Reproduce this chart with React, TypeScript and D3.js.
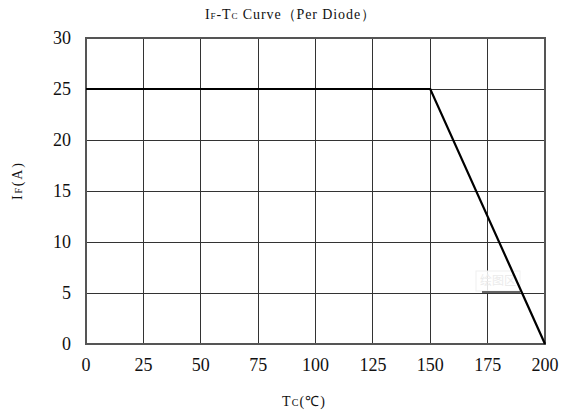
import React from "react";
import * as d3 from "d3";

const xTicks = [0, 25, 50, 75, 100, 125, 150, 175, 200];
const yTicks = [0, 5, 10, 15, 20, 25, 30];
const curveTc = [0, 150, 200];
const curveIf = [25, 25, 0];

const W = 561;
const H = 414;
const M = { left: 86, right: 545, top: 38, bottom: 344 };

export default function App() {
  const x = d3.scaleLinear().domain([0, 200]).range([M.left, M.right]);
  const y = d3.scaleLinear().domain([0, 30]).range([M.bottom, M.top]);
  const pts: [number, number][] = curveTc.map((t, i) => [t, curveIf[i]]);
  const line = d3
    .line<[number, number]>()
    .x((d) => x(d[0]))
    .y((d) => y(d[1]));
  const serif = "'Liberation Serif', 'Times New Roman', serif";
  return (
    <svg
      width={W}
      height={H}
      style={{ position: "absolute", left: 0, top: 0, background: "#fff" }}
    >
      <rect x={0} y={0} width={W} height={H} fill="#fff" />
      {/* grid */}
      {xTicks.map((t) => (
        <line
          key={"gx" + t}
          x1={x(t)}
          x2={x(t)}
          y1={M.top}
          y2={M.bottom}
          stroke="#333"
          strokeWidth={1}
          shapeRendering="crispEdges"
        />
      ))}
      {yTicks.map((t) => (
        <line
          key={"gy" + t}
          x1={M.left}
          x2={M.right}
          y1={y(t)}
          y2={y(t)}
          stroke="#333"
          strokeWidth={1}
          shapeRendering="crispEdges"
        />
      ))}
      <rect
        x={M.left}
        y={M.top}
        width={M.right - M.left}
        height={M.bottom - M.top}
        fill="none"
        stroke="#555"
        strokeWidth={1.5}
        shapeRendering="crispEdges"
      />
      {/* faint tooltip artifact */}
      <rect x={476} y={271} width={44} height={20} fill="#fff" fillOpacity={0.85} stroke="#f0f0f0" />
      <line x1={482} x2={520} y1={292} y2={292} stroke="#666" strokeWidth={2} />
      <text x={498} y={285} fontSize={12} fill="#ebebeb" textAnchor="middle" fontFamily="'Noto Sans CJK SC'">
        绘图区
      </text>
      {/* curve */}
      <path d={line(pts) || ""} fill="none" stroke="#000" strokeWidth={2.2} />
      {/* y ticks */}
      {yTicks.map((t) => (
        <text
          key={"ty" + t}
          x={71}
          y={y(t)}
          dy="0.35em"
          textAnchor="end"
          fontSize={18}
          fontFamily={serif}
          fill="#111"
        >
          {t}
        </text>
      ))}
      {/* x ticks */}
      {xTicks.map((t) => (
        <text
          key={"tx" + t}
          x={x(t)}
          y={371}
          textAnchor="middle"
          fontSize={18}
          fontFamily={serif}
          fill="#111"
        >
          {t}
        </text>
      ))}
      {/* title */}
      <text
        x={205}
        y={19}
        fontSize={14}
        fontFamily={serif}
        fill="#111"
        textLength={170}
        lengthAdjust="spacing"
      >
        I<tspan fontSize={9}>F</tspan>-T<tspan fontSize={9}>C</tspan> Curve（Per Diode）
      </text>
      {/* x label */}
      <text
        x={282}
        y={406}
        fontSize={14}
        fontFamily={serif}
        fill="#111"
        textLength={43}
        lengthAdjust="spacing"
      >
        T<tspan fontSize={10}>C</tspan>(℃)
      </text>
      {/* y label */}
      <text
        transform={`translate(22, 200) rotate(-90)`}
        fontSize={14}
        fontFamily={serif}
        fill="#111"
        textLength={37}
        lengthAdjust="spacing"
      >
        I<tspan fontSize={10}>F</tspan>(A)
      </text>
    </svg>
  );
}
